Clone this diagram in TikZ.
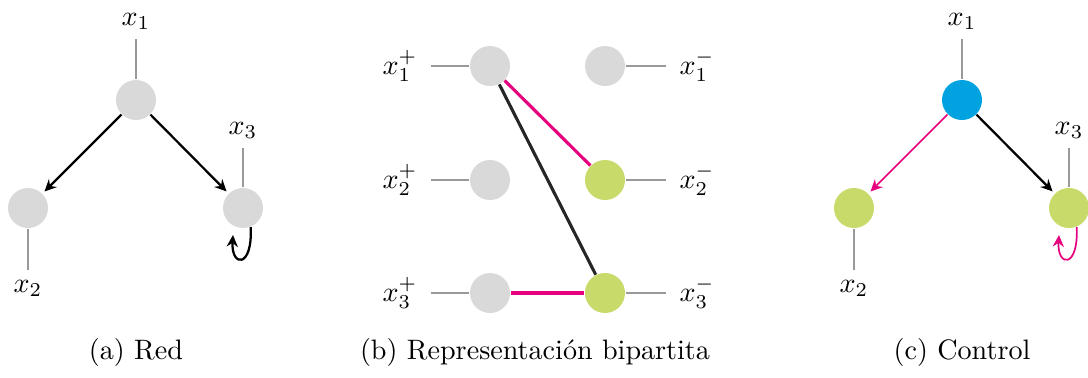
\documentclass[tikz,border=0pt]{standalone}
\usetikzlibrary{arrows.meta,positioning}
\definecolor{nodegray}{RGB}{217,217,217}
\definecolor{ctrlgreen}{RGB}{200,218,106}
\definecolor{ctrlblue}{RGB}{0,163,224}
\definecolor{matchpink}{RGB}{230,0,126}
\tikzset{
  vert/.style={circle,fill=nodegray,minimum size=0.5cm,inner sep=0pt},
  tick/.style={gray!80,line width=0.4pt},
  arc/.style={thick,-{Stealth[length=4.2pt,width=4pt,inset=1.4pt]},shorten >=1pt},
  match/.style={line width=1.1pt},
  sidelabel/.style={inner sep=4.8pt}
}
\begin{document}
\begin{tikzpicture}[x=0.0125cm,y=0.0125cm]
\useasboundingbox (0,0) rectangle (1088,377);
% (a) red
\begin{scope}[shift={(136,277)}]
\node[vert] (a1) at (0,0) {};
\node[vert] (a2) at (-108,-108) {};
\node[vert] (a3) at (107,-108) {};
\node[above=0.5cm of a1] (a1l) {$x_1$};
\node[below=0.52cm of a2] (a2l) {$x_2$};
\node[above=0.49cm of a3] (a3l) {$x_3$};
\draw[tick] (a1) -- (a1l);
\draw[tick] (a2) -- (a2l);
\draw[tick] (a3) -- (a3l);
\draw[arc] (a1) -- (a2);
\draw[arc] (a1) -- (a3);
\coordinate (a3e) at ([shift={(-10,-27)}]a3.center);
\draw[arc,shorten >=0pt] (a3.-68) .. controls +(2,-42) and +(-2,-32) .. (a3e);
\end{scope}
% (b) bipartite
\foreach \i/\y/\c in {1/311/nodegray,2/197/ctrlgreen,3/84/ctrlgreen} {
  \node[vert] (p\i) at (490,\y) {};
  \node[vert,fill=\c] (m\i) at (605,\y) {};
  \node[sidelabel,left=0.475cm of p\i] (pl\i) {$x_\i^+$};
  \node[sidelabel,right=0.5cm of m\i] (ml\i) {$x_\i^-$};
  \draw[tick] (p\i) -- (pl\i);
  \draw[tick] (m\i) -- (ml\i);
}
\draw[match,matchpink] (p1) -- (m2);
\draw[match,black!85] (p1) -- (m3);
\draw[match,matchpink] (p3) -- (m3);
% (c) control
\begin{scope}[shift={(962,277)}]
\node[vert,fill=ctrlblue] (c1) at (0,0) {};
\node[vert,fill=ctrlgreen] (c2) at (-108,-108) {};
\node[vert,fill=ctrlgreen] (c3) at (107,-108) {};
\node[above=0.5cm of c1] (c1l) {$x_1$};
\node[below=0.52cm of c2] (c2l) {$x_2$};
\node[above=0.49cm of c3] (c3l) {$x_3$};
\draw[tick] (c1) -- (c1l);
\draw[tick] (c2) -- (c2l);
\draw[tick] (c3) -- (c3l);
\draw[arc,matchpink,semithick] (c1) -- (c2);
\draw[arc] (c1) -- (c3);
\coordinate (c3e) at ([shift={(-10,-27)}]c3.center);
\draw[arc,matchpink,semithick,shorten >=0pt] (c3.-68) .. controls +(2,-42) and +(-2,-32) .. (c3e);
\end{scope}
% captions
\node (capa) at (136,25) {(a) Red};
\node (capb) at (535,25) {(b) Representación bipartita};
\node (capc) at (962,25) {(c) Control};
\end{tikzpicture}
\end{document}
